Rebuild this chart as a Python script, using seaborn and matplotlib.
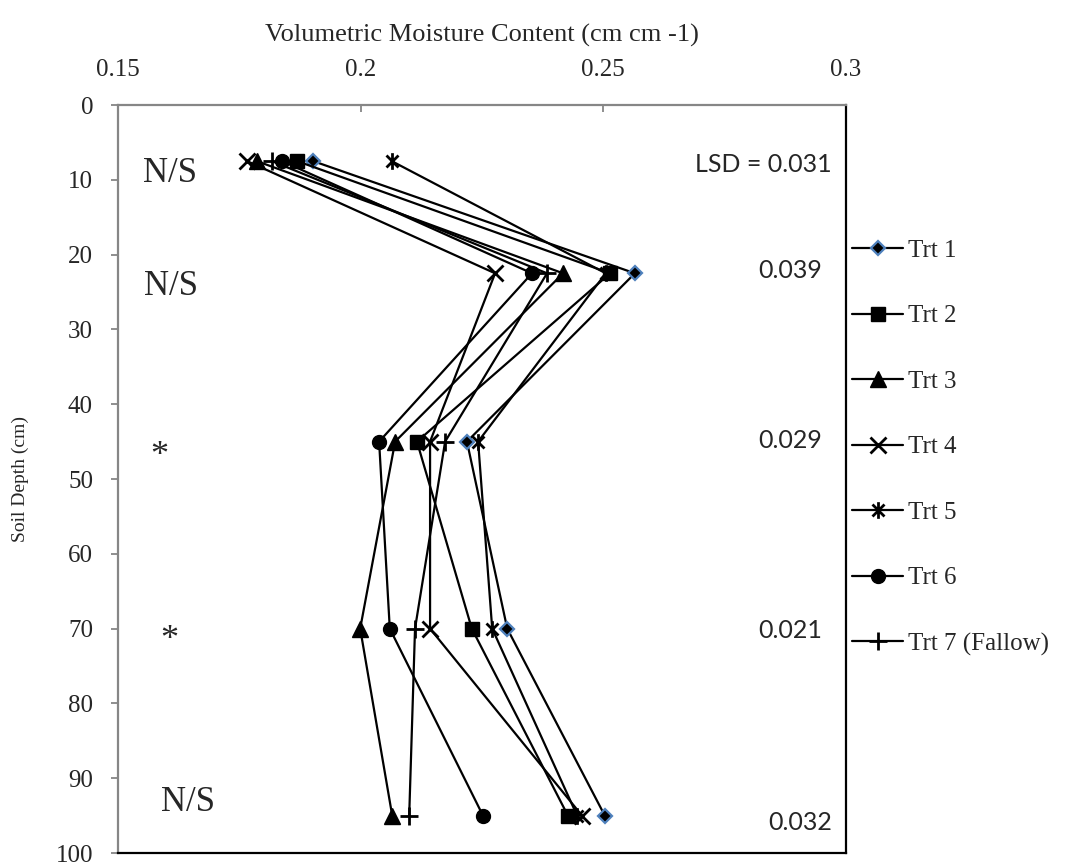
import numpy as np
import pandas as pd
import matplotlib
matplotlib.use("Agg")
import matplotlib.pyplot as plt
import seaborn as sns
from matplotlib.path import Path

# ---------------- data ----------------
depths = [7.5, 22.5, 45, 70, 95]
treatments = ["Trt 1", "Trt 2", "Trt 3", "Trt 4", "Trt 5", "Trt 6", "Trt 7 (Fallow)"]
trt1 = [0.1902, 0.2565, 0.2219, 0.2302, 0.2503]
trt2 = [0.1869, 0.2514, 0.2116, 0.2229, 0.2427]
trt3 = [0.1786, 0.2417, 0.2071, 0.1999, 0.2065]
trt4 = [0.1766, 0.2277, 0.2143, 0.2143, 0.2456]
trt5 = [0.2064, 0.2505, 0.2242, 0.2271, 0.2446]
trt6 = [0.1838, 0.2353, 0.2038, 0.2060, 0.2252]
trt7 = [0.1817, 0.2384, 0.2174, 0.2112, 0.2100]
series = [trt1, trt2, trt3, trt4, trt5, trt6, trt7]

lsd_labels = ["LSD = 0.031", "0.039", "0.029", "0.021", "0.032"]
lsd_depths = [8.0, 22.1, 44.8, 70.2, 95.9]
sig_labels = ["N/S", "N/S", "*", "*", "N/S"]
sig_depths = [9.1, 24.3, 47.0, 71.6, 93.3]

x_ticks = [0.15, 0.2, 0.25, 0.3]
x_ticklabels = ["0.15", "0.2", "0.25", "0.3"]
y_ticks = list(range(0, 101, 10))

df = pd.DataFrame({
    "depth": depths * len(treatments),
    "moisture": [v for s in series for v in s],
    "trt": [t for t in treatments for _ in depths],
})

# ---------------- style ----------------
sns.set_style("white")
plt.rcParams["font.family"] = ["Liberation Serif", "DejaVu Serif"]

W, H = 1066, 868
fig = plt.figure(figsize=(W / 100, H / 100), dpi=100)
L, R, T, B = 118, 846, 105, 853
ax = fig.add_axes([L / W, 1 - B / H, (R - L) / W, (B - T) / H])

star = Path([(0, -1), (0, 1), (-0.72, -0.72), (0.72, 0.72), (-0.72, 0.72), (0.72, -0.72)],
            [Path.MOVETO, Path.LINETO, Path.MOVETO, Path.LINETO, Path.MOVETO, Path.LINETO])

mstyles = {
    "Trt 1": dict(marker="D", markersize=7, markerfacecolor="black", markeredgecolor="#4f81bd", markeredgewidth=1.6),
    "Trt 2": dict(marker="s", markersize=10, markerfacecolor="black", markeredgecolor="black", markeredgewidth=1),
    "Trt 3": dict(marker="^", markersize=12, markerfacecolor="black", markeredgecolor="black", markeredgewidth=1),
    "Trt 4": dict(marker="x", markersize=12, markerfacecolor="black", markeredgecolor="black", markeredgewidth=2),
    "Trt 5": dict(marker=star, markersize=12, markerfacecolor="black", markeredgecolor="black", markeredgewidth=2),
    "Trt 6": dict(marker="o", markersize=10, markerfacecolor="black", markeredgecolor="black", markeredgewidth=1),
    "Trt 7 (Fallow)": dict(marker="+", markersize=13, markerfacecolor="black", markeredgecolor="black", markeredgewidth=2),
}

for t in treatments:
    sub = df[df["trt"] == t]
    sns.lineplot(data=sub, x="moisture", y="depth", sort=False, estimator=None,
                 color="black", linewidth=1.6, label=t, ax=ax, **mstyles[t])

ax.set_xlim(0.15, 0.3)
ax.set_ylim(100, 0)
ax.set_xticks(x_ticks)
ax.set_xticklabels(x_ticklabels)
ax.set_yticks(y_ticks)
ax.xaxis.tick_top()
ax.xaxis.set_label_position("top")
ax.tick_params(axis="x", which="both", direction="in", length=5, width=1.3, color="#868686",
               labelsize=18, pad=17, top=True, bottom=False)
ax.tick_params(axis="y", which="both", direction="out", length=5, width=1.3, color="#868686",
               labelsize=18, pad=13, left=True)
ax.set_xlabel("Volumetric Moisture Content (cm cm -1)", fontsize=19, labelpad=13)
ax.set_ylabel("Soil Depth (cm)", fontsize=14, labelpad=19)

for side in ["top", "left"]:
    ax.spines[side].set_color("#868686")
    ax.spines[side].set_linewidth(1.6)
for side in ["right", "bottom"]:
    ax.spines[side].set_color("black")
    ax.spines[side].set_linewidth(1.6)
    ax.spines[side].set_visible(True)

# significance marks
sig_x = [0.1552, 0.1554, 0.1585, 0.1605, 0.1589]
for lab, d, xx in zip(sig_labels, sig_depths, sig_x):
    if lab == "*":
        ax.text(xx, d, lab, fontsize=26, ha="center", va="center")
    else:
        ax.text(xx, d, lab, fontsize=25, ha="left", va="center")

# LSD values
lsd_x = [0.2971, 0.2950, 0.2950, 0.2950, 0.2971]
for lab, d, xx in zip(lsd_labels, lsd_depths, lsd_x):
    ax.text(xx, d, lab, fontsize=18, ha="right", va="center", family=["Lato", "DejaVu Sans"])

handles, labels = ax.get_legend_handles_labels()
ax.legend(handles, labels, loc="upper left", bbox_to_anchor=(852 / W, 1 - 239.5 / H),
          bbox_transform=fig.transFigure, frameon=False, borderpad=0, borderaxespad=0,
          handlelength=2.04, handletextpad=0.2, labelspacing=1.72, fontsize=18)

fig.savefig("out.png", dpi=100)
